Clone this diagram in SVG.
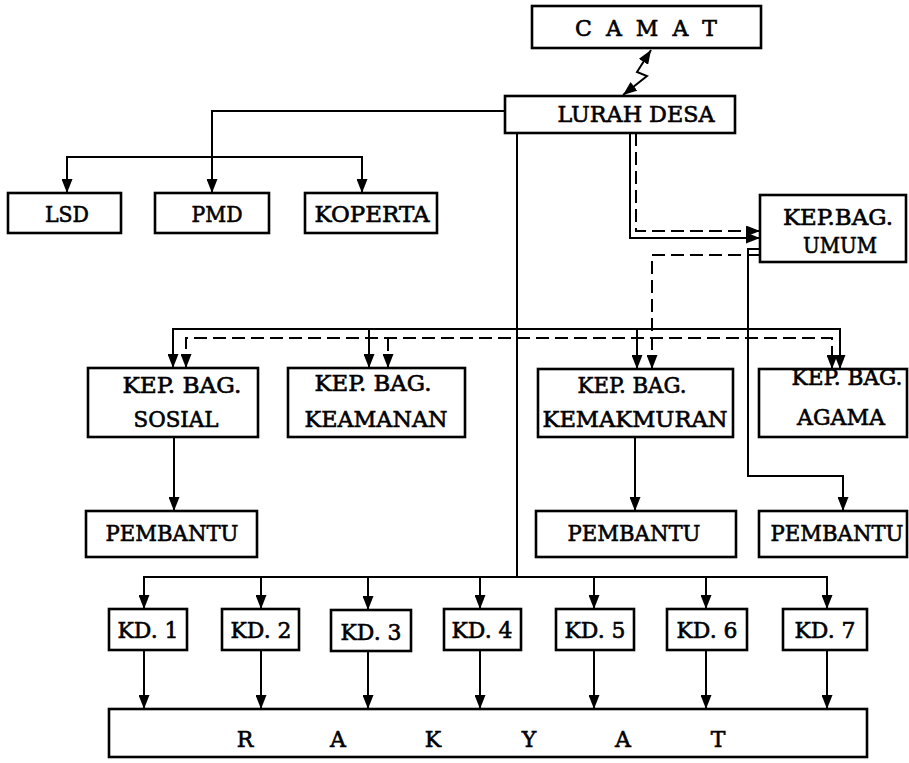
<svg xmlns="http://www.w3.org/2000/svg" width="909" height="763" viewBox="0 0 909 763">
<defs>
<marker id="ah" viewBox="0 0 14 11" refX="14" refY="5.5" markerWidth="14" markerHeight="11" markerUnits="userSpaceOnUse" orient="auto-start-reverse">
<path d="M0,0 L14,5.5 L0,11 z" fill="#000"/>
</marker>
<style>
.box{fill:#fff;stroke:#000;stroke-width:2.6}
.t{font-family:"DejaVu Serif","Liberation Serif",serif;font-size:22px;fill:#000;stroke:#000;stroke-width:0.6;text-anchor:middle}
.c{fill:none;stroke:#000;stroke-width:2}
.d{fill:none;stroke:#000;stroke-width:2;stroke-dasharray:13 6}
.a{marker-end:url(#ah)}
.b{marker-start:url(#ah);marker-end:url(#ah)}
</style>
</defs>
<rect width="909" height="763" fill="#fff"/>
<g id="connectors">
<polyline class="c b" points="651,50 637,72 647,76 623,95"/>
<path class="c a" d="M505,111 H212 V193"/>
<path class="c b" d="M67,193 V157 H362 V193"/>
<path class="c" d="M517,133 V577"/>
<path class="c b" d="M144,609 V577 H827 V609"/>
<path class="c a" d="M261,577 V609"/>
<path class="c a" d="M368,577 V610"/>
<path class="c a" d="M480,577 V609"/>
<path class="c a" d="M594,577 V609"/>
<path class="c a" d="M706,577 V609"/>
<path class="c a" d="M144,650 V709"/>
<path class="c a" d="M261,650 V709"/>
<path class="c a" d="M368,651 V709"/>
<path class="c a" d="M480,650 V709"/>
<path class="c a" d="M594,650 V709"/>
<path class="c a" d="M706,650 V709"/>
<path class="c a" d="M827,650 V709"/>
<path class="c a" d="M630,133 V238 H760"/>
<path class="d a" d="M636,133 V231 H760"/>
<path class="c a" d="M760,249 H748 V476 H843 V511"/>
<path class="d a" d="M760,255 H652 V369"/>
<path class="c b" d="M173,368 V329 H840 V369"/>
<path class="c a" d="M369,329 V368"/>
<path class="c a" d="M637,329 V369"/>
<path class="d b" d="M186,368 V338 H832 V369"/>
<path class="d a" d="M388,338 V368"/>
<path class="c a" d="M174,437 V511"/>
<path class="c a" d="M635,437 V511"/>
</g>
<g id="camat"><rect class="box" x="532" y="6" width="229" height="42"/><text class="t" x="646" y="36" textLength="142">C A M A T</text></g>
<g id="lurah"><rect class="box" x="505" y="96" width="230" height="37"/><text class="t" x="636" y="122" textLength="157" lengthAdjust="spacingAndGlyphs">LURAH DESA</text></g>
<g id="lsd"><rect class="box" x="8" y="193" width="113" height="40"/><text class="t" x="67" y="222" textLength="44" lengthAdjust="spacingAndGlyphs">LSD</text></g>
<g id="pmd"><rect class="box" x="155" y="193" width="114" height="40"/><text class="t" x="217" y="222" textLength="51" lengthAdjust="spacingAndGlyphs">PMD</text></g>
<g id="koperta"><rect class="box" x="305" y="193" width="132" height="40"/><text class="t" x="372" y="222" textLength="115" lengthAdjust="spacingAndGlyphs">KOPERTA</text></g>
<g id="umum"><rect class="box" x="760" y="195" width="146" height="67"/><text class="t" x="838" y="225" textLength="110" lengthAdjust="spacingAndGlyphs">KEP.BAG.</text><text class="t" x="840" y="253" textLength="74" lengthAdjust="spacingAndGlyphs">UMUM</text></g>
<g id="sosial"><rect class="box" x="88" y="368" width="170" height="69"/><text class="t" x="182" y="393" textLength="119" lengthAdjust="spacingAndGlyphs">KEP. BAG.</text><text class="t" x="176" y="427" textLength="85" lengthAdjust="spacingAndGlyphs">SOSIAL</text></g>
<g id="keamanan"><rect class="box" x="288" y="368" width="177" height="69"/><text class="t" x="373" y="391" textLength="117" lengthAdjust="spacingAndGlyphs">KEP. BAG.</text><text class="t" x="376" y="427" textLength="143" lengthAdjust="spacingAndGlyphs">KEAMANAN</text></g>
<g id="kemakmuran"><rect class="box" x="538" y="369" width="195" height="68"/><text class="t" x="632" y="393" textLength="109" lengthAdjust="spacingAndGlyphs">KEP. BAG.</text><text class="t" x="635" y="427" textLength="185" lengthAdjust="spacingAndGlyphs">KEMAKMURAN</text></g>
<g id="agama"><rect class="box" x="759" y="369" width="148" height="68"/><text class="t" x="847" y="385" textLength="111" lengthAdjust="spacingAndGlyphs">KEP. BAG.</text><text class="t" x="841" y="425" textLength="88" lengthAdjust="spacingAndGlyphs">AGAMA</text></g>
<g id="pembantu1"><rect class="box" x="86" y="511" width="171" height="46"/><text class="t" x="172" y="541" textLength="133" lengthAdjust="spacingAndGlyphs">PEMBANTU</text></g>
<g id="pembantu2"><rect class="box" x="536" y="511" width="200" height="46"/><text class="t" x="634" y="541" textLength="133" lengthAdjust="spacingAndGlyphs">PEMBANTU</text></g>
<g id="pembantu3"><rect class="box" x="759" y="511" width="148" height="46"/><text class="t" x="837" y="541" textLength="133" lengthAdjust="spacingAndGlyphs">PEMBANTU</text></g>
<g id="kd1"><rect class="box" x="109" y="609" width="78" height="41"/><text class="t" x="148" y="638" textLength="61" lengthAdjust="spacingAndGlyphs">KD. 1</text></g>
<g id="kd2"><rect class="box" x="222" y="609" width="77" height="41"/><text class="t" x="261" y="638" textLength="61" lengthAdjust="spacingAndGlyphs">KD. 2</text></g>
<g id="kd3"><rect class="box" x="331" y="610" width="80" height="41"/><text class="t" x="371" y="640" textLength="61" lengthAdjust="spacingAndGlyphs">KD. 3</text></g>
<g id="kd4"><rect class="box" x="444" y="609" width="77" height="41"/><text class="t" x="482" y="638" textLength="61" lengthAdjust="spacingAndGlyphs">KD. 4</text></g>
<g id="kd5"><rect class="box" x="556" y="609" width="78" height="41"/><text class="t" x="595" y="638" textLength="61" lengthAdjust="spacingAndGlyphs">KD. 5</text></g>
<g id="kd6"><rect class="box" x="667" y="609" width="80" height="41"/><text class="t" x="707" y="638" textLength="61" lengthAdjust="spacingAndGlyphs">KD. 6</text></g>
<g id="kd7"><rect class="box" x="783" y="609" width="84" height="41"/><text class="t" x="825" y="638" textLength="61" lengthAdjust="spacingAndGlyphs">KD. 7</text></g>
<g id="rakyat"><rect class="box" x="109" y="709" width="758" height="48"/><text class="t" x="245 338 433 529 623 718" y="747">RAKYAT</text></g>
</svg>
